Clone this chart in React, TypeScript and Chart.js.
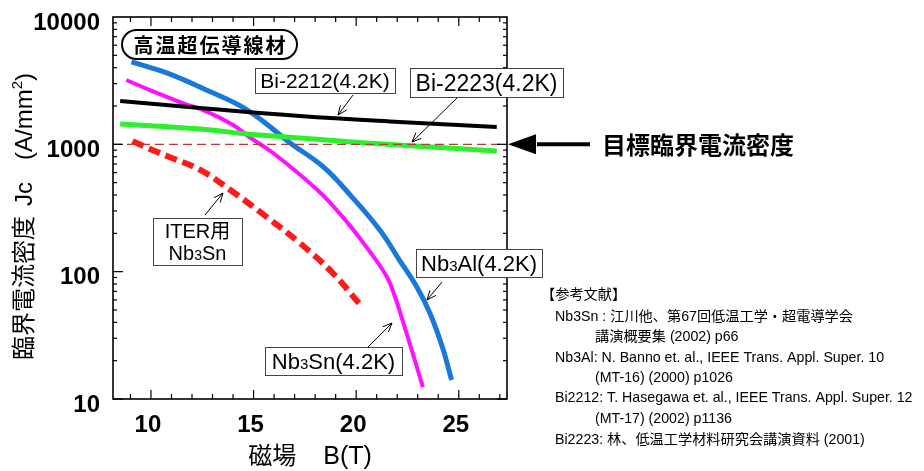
import React, { useEffect, useRef } from "react";
import { Chart, registerables } from "chart.js";
Chart.register(...registerables);

// ---------- data ----------
const nb3alField = [9.05, 10.8, 12.7, 14.7, 16.8, 18.4, 19.8, 21.15, 22.1, 22.95, 23.6, 24.2, 24.65];
const nb3alJc = [4440, 3630, 2670, 1860, 1020, 665, 385, 212, 124, 76, 47, 25.6, 14.1];

const nb3snField = [8.8, 9.95, 11.55, 12.75, 14.0, 14.8, 15.95, 18.1, 19.35, 20.5, 21.5, 21.9, 22.25, 22.75, 23.25];
const nb3snJc = [3200, 2670, 2110, 1800, 1420, 1140, 855, 440, 268, 156, 91, 63, 42, 23, 12.4];

const bi2212Field = [8.5, 12.4, 17.25, 22.1, 26.85];
const bi2212Jc = [2190, 1930, 1670, 1500, 1370];

const bi2223Field = [8.5, 12.4, 14.7, 17.25, 20.5, 26.85];
const bi2223Jc = [1445, 1320, 1205, 1120, 1025, 887];

const iterField = [9.1, 9.95, 10.9, 12.4, 13.85, 15.65, 17.25, 18.85, 20.2];
const iterJc = [1060, 920, 795, 630, 440, 268, 168, 98, 55];

const targetJc = 1000;
const xRange = [8.15, 27.35];
const yRange = [10, 10000];
const xTickLabels = [10, 15, 20, 25];
const xMinorTicks = [9, 10, 11, 12, 13, 14, 15, 16, 17, 18, 19, 20, 21, 22, 23, 24, 25, 26, 27];
const yTickLabels = [10, 100, 1000, 10000];

const references = [
  "【参考文献】",
  "Nb3Sn : 江川他、第67回低温工学・超電導学会",
  "講演概要集 (2002) p66",
  "Nb3Al: N. Banno et. al., IEEE Trans. Appl. Super. 10",
  "(MT-16) (2000) p1026",
  "Bi2212: T. Hasegawa et. al., IEEE Trans. Appl. Super. 12",
  "(MT-17) (2002) p1136",
  "Bi2223: 林、低温工学材料研究会講演資料 (2001)",
];

// ---------- styling / layout ----------
const SANS = "'Liberation Sans', Arial, 'Noto Sans CJK JP', sans-serif";
const CJK = "'Noto Sans CJK JP', 'Liberation Sans', sans-serif";

type Seg = { t: string; s: number; w?: string; dy?: number; gap?: number };

const BOXES: { cx: number; cy: number; w: number; h: number; lh: number; lines: Seg[][] }[] = [
  { cx: 325, cy: 80.5, w: 140, h: 25, lh: 0, lines: [[{ t: "Bi-2212(4.2K)", s: 21 }]] },
  { cx: 486.5, cy: 82.5, w: 153, h: 29, lh: 0, lines: [[{ t: "Bi-2223(4.2K)", s: 23 }]] },
  {
    cx: 197.5, cy: 241.5, w: 89, h: 47, lh: 22,
    lines: [[{ t: "ITER用", s: 20 }], [{ t: "Nb", s: 20 }, { t: "3", s: 14 }, { t: "Sn", s: 20 }]],
  },
  { cx: 479, cy: 263, w: 126, h: 28, lh: 0, lines: [[{ t: "Nb", s: 22 }, { t: "3", s: 15 }, { t: "Al(4.2K)", s: 22 }]] },
  { cx: 333.5, cy: 361, w: 137, h: 28, lh: 0, lines: [[{ t: "Nb", s: 22 }, { t: "3", s: 15 }, { t: "Sn(4.2K)", s: 22 }]] },
];
const ARROWS = [
  [353, 95, 338, 115],
  [457, 98, 412, 142],
  [205, 215, 223, 193],
  [442, 282, 427, 300],
  [368, 347, 392, 323],
];

function richWidth(ctx: CanvasRenderingContext2D, segs: Seg[], fam: string) {
  let w = 0;
  for (const g of segs) {
    ctx.font = `${g.w || "normal"} ${g.s}px ${fam}`;
    w += ctx.measureText(g.t).width + (g.gap || 0);
  }
  return w;
}
function drawRich(ctx: CanvasRenderingContext2D, segs: Seg[], x: number, base: number, align: string, fam: string) {
  const w = richWidth(ctx, segs, fam);
  let cx = align === "center" ? x - w / 2 : align === "right" ? x - w : x;
  ctx.textAlign = "left";
  ctx.textBaseline = "alphabetic";
  for (const g of segs) {
    ctx.font = `${g.w || "normal"} ${g.s}px ${fam}`;
    ctx.fillText(g.t, cx, base + (g.dy || 0));
    cx += ctx.measureText(g.t).width + (g.gap || 0);
  }
}
function seg(ctx: CanvasRenderingContext2D, x1: number, y1: number, x2: number, y2: number) {
  ctx.beginPath();
  ctx.moveTo(x1, y1);
  ctx.lineTo(x2, y2);
  ctx.stroke();
}

const decor = {
  id: "decor",
  afterDraw(chart: any) {
    const { ctx, chartArea: a, scales } = chart;
    const x = scales.x;
    const y = scales.y;
    ctx.save();
    ctx.strokeStyle = "#000";
    ctx.fillStyle = "#000";
    // ticks
    ctx.lineWidth = 1.2;
    for (const v of xMinorTicks) {
      const px = x.getPixelForValue(v);
      const len = xTickLabels.includes(v) ? 9 : 5;
      seg(ctx, px, a.bottom, px, a.bottom - len);
      seg(ctx, px, a.top, px, a.top + len);
    }
    for (const d of yTickLabels.slice(0, 3)) {
      for (let m = 1; m <= 9; m++) {
        const py = y.getPixelForValue(d * m);
        const len = m === 1 ? 10 : 4;
        seg(ctx, a.left, py, a.left + len, py);
        seg(ctx, a.right, py, a.right - len, py);
      }
    }
    // frame
    ctx.lineWidth = 1.6;
    ctx.strokeRect(a.left, a.top, a.right - a.left, a.bottom - a.top);

    // tick labels
    ctx.font = `bold 24px ${SANS}`;
    ctx.textBaseline = "middle";
    ctx.textAlign = "right";
    for (const v of yTickLabels) ctx.fillText(String(v), a.left - 13, y.getPixelForValue(v) + 6);
    ctx.textAlign = "center";
    for (const v of xTickLabels) ctx.fillText(String(v), x.getPixelForValue(v) - 3, a.bottom + 26);

    // axis titles
    drawRich(
      ctx,
      [
        { t: "磁場", s: 24, gap: 27 },
        { t: "B(T)", s: 25 },
      ],
      310, a.bottom + 65, "center", SANS
    );
    ctx.save();
    ctx.translate(32, 0);
    ctx.rotate(-Math.PI / 2);
    // left-aligned from the bottom end of the title
    drawRich(
      ctx,
      [
        { t: "臨界電流密度", s: 24, gap: 10 },
        { t: "Jc", s: 24, gap: 22 },
        { t: "(A/mm", s: 24 },
        { t: "2", s: 15, dy: -10 },
        { t: ")", s: 24 },
      ],
      -360, 0, "left", SANS
    );
    ctx.restore();

    // pill label
    const px0 = 122, py0 = 30, pw = 175, ph = 29;
    ctx.beginPath();
    ctx.lineWidth = 2;
    const r = ph / 2;
    ctx.moveTo(px0 + r, py0);
    ctx.lineTo(px0 + pw - r, py0);
    ctx.arc(px0 + pw - r, py0 + r, r, -Math.PI / 2, Math.PI / 2);
    ctx.lineTo(px0 + r, py0 + ph);
    ctx.arc(px0 + r, py0 + r, r, Math.PI / 2, (3 * Math.PI) / 2);
    ctx.closePath();
    ctx.fillStyle = "#fff";
    ctx.fill();
    ctx.stroke();
    ctx.fillStyle = "#000";
    ctx.font = `bold 20px ${CJK}`;
    ctx.textAlign = "center";
    ctx.textBaseline = "middle";
    (ctx as any).letterSpacing = "2px";
    ctx.fillText("高温超伝導線材", px0 + pw / 2 + 1, py0 + ph / 2 + 1);
    (ctx as any).letterSpacing = "0px";

    // arrows (thin)
    ctx.lineWidth = 1;
    for (const [x1, y1, x2, y2] of ARROWS) {
      seg(ctx, x1, y1, x2, y2);
      const ang = Math.atan2(y2 - y1, x2 - x1);
      const L = 10, sp = 0.4;
      seg(ctx, x2, y2, x2 - L * Math.cos(ang - sp), y2 - L * Math.sin(ang - sp));
      seg(ctx, x2, y2, x2 - L * Math.cos(ang + sp), y2 - L * Math.sin(ang + sp));
    }

    // boxes
    for (const b of BOXES) {
      const bx = b.cx - b.w / 2, by = b.cy - b.h / 2;
      ctx.fillStyle = "#fff";
      ctx.fillRect(bx, by, b.w, b.h);
      ctx.strokeStyle = "#444";
      ctx.lineWidth = 1;
      ctx.strokeRect(bx + 0.5, by + 0.5, b.w, b.h);
      ctx.fillStyle = "#000";
      const n = b.lines.length;
      b.lines.forEach((ln, i) => {
        const cy = b.cy + (i - (n - 1) / 2) * b.lh;
        drawRich(ctx, ln, b.cx, cy + ln[0].s * 0.36, "center", SANS);
      });
    }

    // target arrow + label
    const ty = y.getPixelForValue(targetJc);
    ctx.strokeStyle = "#000";
    ctx.fillStyle = "#000";
    ctx.lineWidth = 4;
    seg(ctx, a.right + 30, ty, a.right + 83, ty);
    ctx.beginPath();
    ctx.moveTo(a.right + 1, ty);
    ctx.lineTo(a.right + 29, ty - 10);
    ctx.lineTo(a.right + 29, ty + 10);
    ctx.closePath();
    ctx.fill();
    ctx.font = `bold 24px ${CJK}`;
    ctx.textAlign = "left";
    ctx.textBaseline = "middle";
    ctx.fillText("目標臨界電流密度", a.right + 95, ty + 1);

    // references
    ctx.font = `normal 14.2px ${SANS}`;
    ctx.textBaseline = "middle";
    const refX = [541, 555, 595, 555, 595, 555, 595, 555];
    const refY = [295, 317, 337, 358, 378, 398, 419, 440];
    references.forEach((t, i) => ctx.fillText(t, refX[i], refY[i]));

    ctx.restore();
  },
};

function pts(xs: number[], ys: number[]) {
  return xs.map((v, i) => ({ x: v, y: ys[i] }));
}

export default function App() {
  const ref = useRef<HTMLCanvasElement | null>(null);
  useEffect(() => {
    if (!ref.current) return;
    const common = { showLine: true, pointRadius: 0, tension: 0.4 };
    const chart = new Chart(ref.current, {
      type: "scatter",
      data: {
        datasets: [
          {
            label: "target",
            data: pts(xRange, [targetJc, targetJc]),
            borderColor: "#b53a3a",
            borderWidth: 1.2,
            borderDash: [9, 5],
            showLine: true,
            pointRadius: 0,
          },
          { ...common, label: "Bi-2223(4.2K)", data: pts(bi2223Field, bi2223Jc), borderColor: "#2cf02c", borderWidth: 5 },
          { ...common, label: "Bi-2212(4.2K)", data: pts(bi2212Field, bi2212Jc), borderColor: "#000000", borderWidth: 4 },
          {
            ...common,
            label: "ITER用 Nb3Sn",
            data: pts(iterField, iterJc),
            borderColor: "#ff1a1a",
            borderWidth: 6,
            borderDash: [12, 6],
            borderCapStyle: "butt",
          },
          { ...common, label: "Nb3Sn(4.2K)", data: pts(nb3snField, nb3snJc), borderColor: "#ff10ff", borderWidth: 4 },
          { ...common, label: "Nb3Al(4.2K)", data: pts(nb3alField, nb3alJc), borderColor: "#1a78d8", borderWidth: 5 },
        ],
      },
      options: {
        animation: false,
        responsive: false,
        maintainAspectRatio: false,
        layout: { padding: { left: 113, right: 417, top: 17, bottom: 72 } },
        plugins: { legend: { display: false }, tooltip: { enabled: false } },
        scales: {
          x: { type: "linear", min: xRange[0], max: xRange[1], display: false },
          y: { type: "logarithmic", min: yRange[0], max: yRange[1], display: false },
        },
      },
      plugins: [decor],
    } as any);
    return () => chart.destroy();
  }, []);
  return (
    <div style={{ position: "absolute", left: 0, top: 0, width: 924, height: 471, background: "#fff" }}>
      <canvas ref={ref} width={924} height={471} style={{ display: "block" }} />
    </div>
  );
}
